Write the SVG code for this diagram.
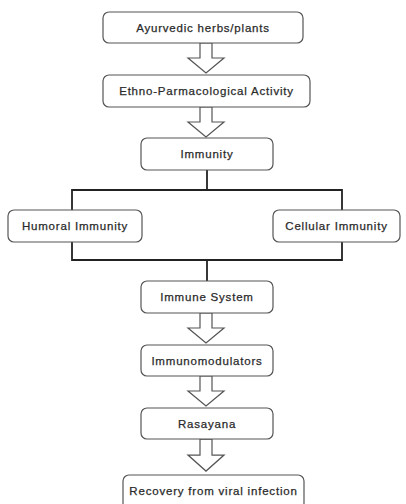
<svg xmlns="http://www.w3.org/2000/svg" width="406" height="504" viewBox="0 0 406 504">
<style>
.box{fill:#fff;stroke:#555;stroke-width:1.2}
.t{font-family:"Liberation Sans",Arial,sans-serif;font-size:11.5px;fill:#2a2a2a;stroke:#2a2a2a;stroke-width:0.25;text-anchor:middle;letter-spacing:0.8px}
.arr{fill:#fff;stroke:#555;stroke-width:1.2;stroke-linejoin:miter}
.ln{fill:none;stroke:#222;stroke-width:1.8}
</style>
<rect width="406" height="504" fill="#fff"/>
<defs>
<polygon id="ar" class="arr" points="-6,0 6,0 6,15 18,15 0,30 -18,15 -6,15"/>
</defs>
<g id="connectors">
<use href="#ar" transform="translate(206,43)"/>
<use href="#ar" transform="translate(206,107)"/>
<use href="#ar" transform="translate(206,313)"/>
<use href="#ar" transform="translate(206,376)"/>
<use href="#ar" transform="translate(206,439) scale(1,1.07)"/>
<polyline class="ln" points="207,170 207,190"/>
<polyline class="ln" points="72,210 72,190 342,190 342,210"/>
<polyline class="ln" points="72,242 72,260 342,260 342,242"/>
<polyline class="ln" points="207,260 207,281"/>
</g>
<g id="n1"><rect class="box" x="103" y="12" width="200" height="31" rx="6"/><text class="t" x="203" y="31.5">Ayurvedic herbs/plants</text></g>
<g id="n2"><rect class="box" x="103" y="75" width="207" height="32" rx="6"/><text class="t" x="206.5" y="95">Ethno-Parmacological Activity</text></g>
<g id="n3"><rect class="box" x="141" y="138" width="132" height="32" rx="6"/><text class="t" x="207" y="158">Immunity</text></g>
<g id="n4"><rect class="box" x="8" y="210" width="134" height="32" rx="6"/><text class="t" x="75" y="230">Humoral Immunity</text></g>
<g id="n5"><rect class="box" x="273" y="210" width="127" height="32" rx="6"/><text class="t" x="336.5" y="230">Cellular Immunity</text></g>
<g id="n6"><rect class="box" x="141" y="281" width="132" height="32" rx="6"/><text class="t" x="207" y="301">Immune System</text></g>
<g id="n7"><rect class="box" x="141" y="345" width="132" height="31" rx="6"/><text class="t" x="207" y="364.5">Immunomodulators</text></g>
<g id="n8"><rect class="box" x="141" y="408" width="132" height="31" rx="6"/><text class="t" x="207" y="427.5">Rasayana</text></g>
<g id="n9"><rect class="box" x="123" y="475" width="181" height="34" rx="6"/><text class="t" x="213.5" y="494.5">Recovery from viral infection</text></g>
</svg>
